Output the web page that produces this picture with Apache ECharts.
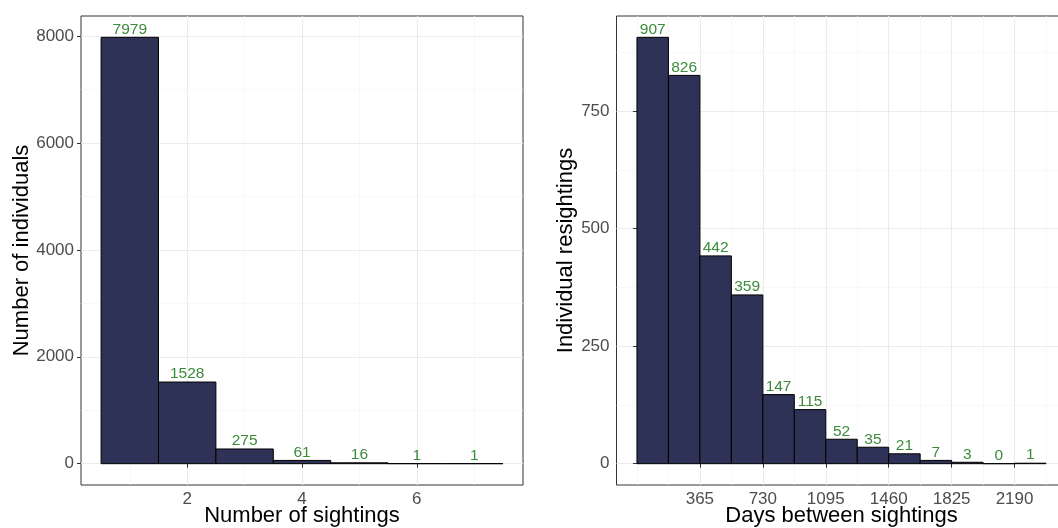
<!DOCTYPE html>
<html>
<head>
<meta charset="utf-8">
<script src="https://cdn.jsdelivr.net/npm/echarts@6/dist/echarts.min.js"></script>
<style>
  html, body { margin: 0; padding: 0; background: #ffffff; }
  #chart { width: 1058px; height: 528px; }
</style>
</head>
<body>
<div id="chart"></div>
<script>
// ---- Data ----
const sightingsBins = [1, 2, 3, 4, 5, 6, 7];
const sightingsCounts = [7979, 1528, 275, 61, 16, 1, 1];

const daysBinStarts = [0, 182.5, 365, 547.5, 730, 912.5, 1095, 1277.5, 1460, 1642.5, 1825, 2007.5, 2190];
const daysBinWidth = 182.5;
const daysCounts = [907, 826, 442, 359, 147, 115, 52, 35, 21, 7, 3, 0, 1];

// tick labels / grid breaks
const leftXTicks = [2, 4, 6];
const leftXMinor = [1, 3, 5, 7];
const leftYTicks = [0, 2000, 4000, 6000, 8000];
const leftYMinor = [1000, 3000, 5000, 7000];
const rightXTicks = [365, 730, 1095, 1460, 1825, 2190];
const rightXMinor = [0, 182.5, 547.5, 912.5, 1277.5, 1642.5, 2007.5, 2372.5];
const rightYTicks = [0, 250, 500, 750];
const rightYMinor = [125, 375, 625, 875];

const leftXTitle = 'Number of sightings';
const leftYTitle = 'Number of individuals';
const rightXTitle = 'Days between sightings';
const rightYTitle = 'Individual resightings';

// ---- Styling ----
const FONT = '"Liberation Sans", Arial, sans-serif';
const BAR_FILL = '#2d3256';
const LABEL_GREEN = '#0a6e0a';
const TICK_COLOR = '#4d4d4d';
const MAJOR_GRID = { color: '#ebebeb', width: 1.1 };
const MINOR_GRID = { color: '#f3f3f3', width: 0.6 };

// ggplot-like 5% expansion
function expand(lo, hi) { const d = (hi - lo) * 0.05; return [lo - d, hi + d]; }

const leftXRange = expand(sightingsBins[0] - 0.5, sightingsBins[sightingsBins.length - 1] + 0.5);
const leftYRange = expand(0, Math.max(...sightingsCounts));
const rightXRange = expand(daysBinStarts[0], daysBinStarts[daysBinStarts.length - 1] + daysBinWidth);
const rightYRange = expand(0, Math.max(...daysCounts));

const leftRects = sightingsBins.map((b, i) => [b - 0.5, b + 0.5, sightingsCounts[i]]);
const leftLabels = sightingsBins.map((b, i) => [b, sightingsCounts[i]]);
const rightRects = daysBinStarts.map((s, i) => [s, s + daysBinWidth, daysCounts[i]]);
const rightLabels = daysBinStarts.map((s, i) => [s + daysBinWidth / 2, daysCounts[i]]);

function mainAxis(dim, gridIndex, range, ticks, title, nameGap) {
  return {
    type: 'value', gridIndex: gridIndex, min: range[0], max: range[1],
    name: title, nameLocation: 'middle', nameGap: nameGap, nameMoveOverlap: false,
    nameTextStyle: { color: '#000', fontSize: 22, fontFamily: FONT },
    axisLine: { show: false },
    axisTick: { show: true, length: 4, customValues: ticks, lineStyle: { color: '#333', width: 1 } },
    axisLabel: { show: true, customValues: ticks, color: TICK_COLOR, fontSize: 17, fontFamily: FONT,
                 margin: dim === 'x' ? 6 : 7, formatter: v => String(v) },
    splitLine: { show: true, lineStyle: MAJOR_GRID }
  };
}
function minorAxis(gridIndex, range, ticks) {
  return {
    type: 'value', gridIndex: gridIndex, min: range[0], max: range[1],
    axisLine: { show: false },
    axisTick: { show: false, customValues: ticks },
    axisLabel: { show: false, customValues: ticks },
    splitLine: { show: true, lineStyle: MINOR_GRID }
  };
}

function renderBar(params, api) {
  const x0 = api.value(0), x1 = api.value(1), y = api.value(2);
  const p0 = api.coord([x0, 0]);
  const p1 = api.coord([x1, y]);
  return {
    type: 'rect',
    shape: { x: p0[0], y: p1[1], width: p1[0] - p0[0], height: p0[1] - p1[1] },
    style: { fill: BAR_FILL, stroke: '#000', lineWidth: 1 }
  };
}

const labelCfg = {
  show: true, position: 'top', distance: 0,
  color: LABEL_GREEN, fontSize: 15.5, fontFamily: FONT,
  formatter: p => String(p.value[1])
};

const chart = echarts.init(document.getElementById('chart'), null, { renderer: 'canvas' });
chart.setOption({
  animation: false,
  backgroundColor: '#ffffff',
  grid: [
    { left: 81, top: 16, width: 442, height: 469, show: true, borderColor: '#333', borderWidth: 1, backgroundColor: 'transparent', containLabel: false, outerBoundsMode: 'none' },
    { left: 616.5, top: 16, width: 450, height: 469, show: true, borderColor: '#333', borderWidth: 1, backgroundColor: 'transparent', containLabel: false, outerBoundsMode: 'none' }
  ],
  xAxis: [
    mainAxis('x', 0, leftXRange, leftXTicks, leftXTitle, 20),
    mainAxis('x', 1, rightXRange, rightXTicks, rightXTitle, 20),
    minorAxis(0, leftXRange, leftXMinor),
    minorAxis(1, rightXRange, rightXMinor)
  ],
  yAxis: [
    mainAxis('y', 0, leftYRange, leftYTicks, leftYTitle, 48),
    mainAxis('y', 1, rightYRange, rightYTicks, rightYTitle, 40),
    minorAxis(0, leftYRange, leftYMinor),
    minorAxis(1, rightYRange, rightYMinor)
  ],
  series: [
    { type: 'custom', xAxisIndex: 0, yAxisIndex: 0, renderItem: renderBar, data: leftRects, z: 3 },
    { type: 'scatter', xAxisIndex: 0, yAxisIndex: 0, symbolSize: 0, data: leftLabels, label: labelCfg, z: 4, silent: true },
    { type: 'custom', xAxisIndex: 1, yAxisIndex: 1, renderItem: renderBar, data: rightRects, z: 3 },
    { type: 'scatter', xAxisIndex: 1, yAxisIndex: 1, symbolSize: 0, data: rightLabels, label: labelCfg, z: 4, silent: true }
  ]
});
</script>
</body>
</html>
